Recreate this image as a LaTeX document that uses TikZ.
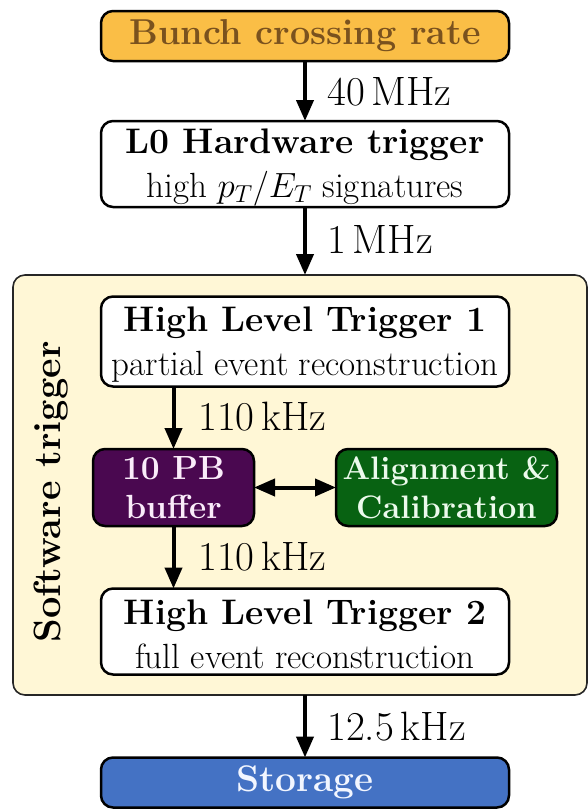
\RequirePackage{fix-cm}
\documentclass[tikz,border=0pt]{standalone}
\usepackage{fontspec}
\usetikzlibrary{arrows.meta}
\definecolor{bunchfill}{RGB}{250,190,70}
\definecolor{bunchtext}{RGB}{122,82,30}
\definecolor{swfill}{RGB}{255,247,214}
\definecolor{buffill}{RGB}{74,8,80}
\definecolor{buftext}{RGB}{250,236,250}
\definecolor{alfill}{RGB}{8,98,18}
\definecolor{altext}{RGB}{236,250,236}
\definecolor{stfill}{RGB}{68,114,196}
\definecolor{sttext}{RGB}{242,246,255}
\newcommand{\ttl}{\fontsize{35.5}{44}\selectfont\bfseries\rule{0pt}{31pt}}
\newcommand{\sbt}{\fontsize{35}{44}\selectfont\mdseries}
\tikzset{
  box/.style={draw=black, line width=2.5pt, rounded corners=12pt, fill=white,
    minimum width=408pt, align=center, inner sep=0pt, outer sep=0pt,
    font=\fontsize{35}{44}\selectfont},
  swbox/.style={draw=black!85, line width=1.6pt, rounded corners=12pt, fill=swfill,
    minimum width=574pt, minimum height=420pt, inner sep=0pt, outer sep=0pt},
  flow/.style={line width=4pt, -{Triangle[length=21pt,width=17pt]}},
  both/.style={line width=4pt, {Triangle[length=21pt,width=17pt]}-{Triangle[length=21pt,width=17pt]}},
  rate/.style={anchor=base west, inner sep=0pt, font=\fontsize{41}{48}\selectfont},
}
\begin{document}
\begin{tikzpicture}[x=1pt,y=1pt]
\useasboundingbox (0,0) rectangle (588,-809);
\node[swbox] (sw) at (300,-485) {};
\node[rotate=90, font=\fontsize{38}{44}\selectfont\bfseries, inner sep=0pt] (swlabel) at (51,-492) {Software trigger};

\node[box, fill=bunchfill, minimum height=50pt, text=bunchtext, font=\fontsize{36}{44}\selectfont\bfseries] (bunch) at (305,-36) {Bunch crossing rate};
\node[box, minimum height=86pt] (l0) at (305,-164) {\ttl L0 Hardware trigger\\ \sbt high $p_T/E_T$ signatures};
\node[box, minimum height=90pt] (hlt1) at (305,-341.5) {\ttl High Level Trigger 1\\ \sbt partial event reconstruction};
\node[box, fill=buffill, text=buftext, minimum width=161pt, minimum height=77pt, font=\fontsize{33.5}{38.5}\selectfont\bfseries] (buf) at (173.5,-487.5) {10 PB\\buffer};
\node[box, fill=alfill, text=altext, minimum width=221pt, minimum height=77pt, font=\fontsize{32.5}{38.5}\selectfont\bfseries] (align) at (446.5,-487.5) {Alignment \&\\Calibration};
\node[box, minimum height=86pt] (hlt2) at (305,-631.5) {\ttl High Level Trigger 2\\ \sbt full event reconstruction};
\node[box, fill=stfill, text=sttext, minimum height=50pt, font=\fontsize{37}{44}\selectfont\bfseries] (st) at (305,-782.5) {Storage};

\draw[flow] (bunch.south) -- (l0.north);
\draw[flow] (l0.south) -- (l0.south |- sw.north);
\draw[flow] (hlt1.south -| buf.north) -- (buf.north);
\draw[both] (buf.east) -- (align.west);
\draw[flow] (buf.south) -- (buf.south |- hlt2.north);
\draw[flow] (st.north |- sw.south) -- (st.north);

\node[rate] (r1) at (327,-105) {40\,MHz};
\node[rate] (r2) at (327,-253) {1\,MHz};
\node[rate] (r3) at (198,-430) {110\,kHz};
\node[rate] (r4) at (198,-570) {110\,kHz};
\node[rate] (r5) at (327,-740) {12.5\,kHz};
\end{tikzpicture}
\end{document}
